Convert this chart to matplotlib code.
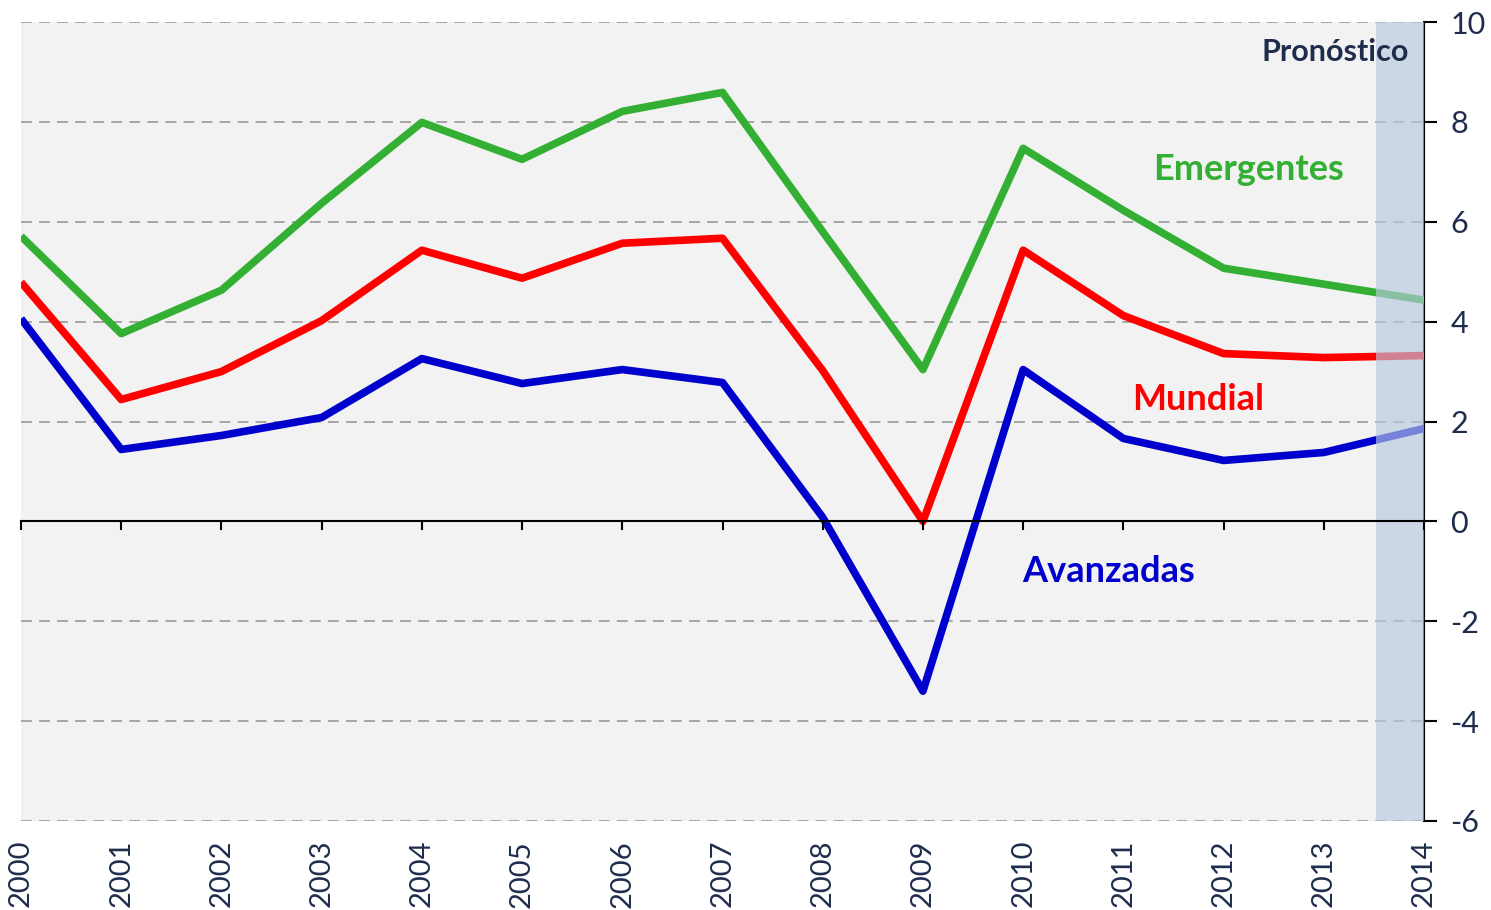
import numpy as np
import matplotlib.pyplot as plt

plt.rcParams['font.family'] = ['Lato', 'DejaVu Sans']
plt.rcParams['axes.unicode_minus'] = False

years = list(range(2000, 2015))
emergentes = [5.71, 3.76, 4.63, 6.37, 7.99, 7.25, 8.21, 8.59, 5.8, 3.04, 7.47, 6.23, 5.07, 4.75, 4.43]
mundial = [4.79, 2.44, 3.0, 4.02, 5.43, 4.87, 5.57, 5.67, 3.02, 0.0, 5.43, 4.12, 3.36, 3.28, 3.32]
avanzadas = [4.06, 1.44, 1.72, 2.08, 3.26, 2.76, 3.04, 2.78, 0.08, -3.4, 3.04, 1.66, 1.22, 1.38, 1.86]
forecast_start = 2013.52
yticks = [-6, -4, -2, 0, 2, 4, 6, 8, 10]

navy = '#1f2d4d'

fig = plt.figure(figsize=(14.91, 9.1), dpi=100)
ax = fig.add_axes([21/1491, 1 - 821/910, (1424 - 21)/1491, (821 - 22)/910])
ax.set_facecolor('#f2f2f2')

for y in yticks:
    if y != 0:
        ax.axhline(y, color='#a0a0a0', lw=1.3, ls=(0, (6, 4)), zorder=1)

ax.plot(years, emergentes, color='#33b033', lw=5.5, zorder=3, solid_capstyle='butt')
ax.plot(years, mundial, color='#ff0000', lw=5.5, zorder=3, solid_capstyle='butt')
ax.plot(years, avanzadas, color='#0000cc', lw=5.5, zorder=3, solid_capstyle='butt')

# shaded forecast band
ax.axvspan(forecast_start, 2014, color='#b8c9e0', alpha=0.65, lw=0, zorder=4)

ax.set_xlim(2000, 2014)
ax.set_ylim(-6, 10)

# x axis drawn at zero, labels at bottom
ax.spines['bottom'].set_position(('data', 0))
ax.spines['top'].set_visible(False)
ax.spines['left'].set_visible(False)
ax.spines['right'].set_linewidth(1.5)
ax.spines['bottom'].set_linewidth(1.5)
ax.spines['bottom'].set_zorder(5)

ax.set_xticks(years)
ax.set_xticklabels([])
ax.tick_params(axis='x', length=0)
for yr in years:
    ax.plot([yr, yr], [0, -0.15], color='black', lw=1.5, zorder=5, clip_on=False)
    ax.text(yr, -6.38, str(yr), rotation=90, ha='center', va='top', fontsize=21, color=navy)

ax.yaxis.tick_right()
ax.set_yticks(yticks)
ax.tick_params(axis='y', direction='out', length=9, width=1.5, labelsize=22, labelcolor=navy, pad=10)

ax.text(2012.25, 7.05, 'Emergentes', color='#33b033', fontsize=26, fontweight='bold', ha='center', va='center', zorder=6)
ax.text(2011.75, 2.45, 'Mundial', color='#ff0000', fontsize=26, fontweight='bold', ha='center', va='center', zorder=6)
ax.text(2010.85, -1.0, 'Avanzadas', color='#0000cc', fontsize=26, fontweight='bold', ha='center', va='center', zorder=6)
ax.text(2013.85, 9.4, 'Pronóstico', color=navy, fontsize=22, fontweight='bold', ha='right', va='center', zorder=6)

fig.savefig('out.png', dpi=100)
